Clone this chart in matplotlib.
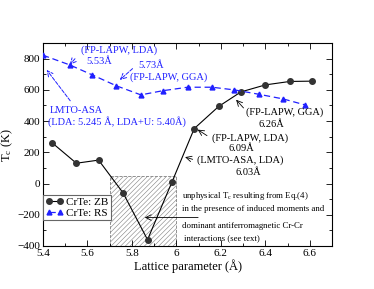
import matplotlib
matplotlib.use("Agg")
import matplotlib.pyplot as plt
from matplotlib.patches import Rectangle
from matplotlib.ticker import MultipleLocator

plt.rcParams['font.family'] = ['Liberation Serif', 'DejaVu Serif']
plt.rcParams['hatch.linewidth'] = 0.4
plt.rcParams['mathtext.fontset'] = 'stix'

# CrTe zinc-blende
zb_a = [5.44, 5.55, 5.65, 5.76, 5.87, 5.98, 6.08, 6.19, 6.29, 6.40, 6.51, 6.61]
zb_tc = [262, 130, 150, -60, -360, 10, 352, 494, 587, 632, 654, 656]

# CrTe rock-salt
rs_a = [5.40, 5.52, 5.62, 5.73, 5.84, 5.94, 6.05, 6.16, 6.26, 6.37, 6.48, 6.58]
rs_tc = [822, 760, 697, 626, 568, 595, 617, 617, 600, 572, 542, 503]

blue = '#2020ff'

fig = plt.figure(figsize=(3.74, 2.89), dpi=100)
ax = fig.add_axes([0.115, 0.149, 0.773, 0.702])

# unphysical region
ax.add_patch(Rectangle((5.7, -400), 0.3, 450, fill=False, hatch='///////',
                       edgecolor='0.5', ls='--', lw=0.6, zorder=1))

ax.plot(zb_a, zb_tc, '-o', color='black', mfc='#333333', mec='#333333',
        ms=4, lw=0.8, label='CrTe: ZB', zorder=3)
ax.plot(rs_a, rs_tc, '--^', color=blue, ms=3.5, lw=0.9, dashes=(5, 3),
        label='CrTe: RS', zorder=3)

ax.set_xlim(5.4, 6.7)
ax.set_ylim(-400, 900)
ax.xaxis.set_minor_locator(MultipleLocator(0.1))
ax.yaxis.set_major_locator(MultipleLocator(200))
ax.yaxis.set_minor_locator(MultipleLocator(100))
ax.set_xticks([5.4, 5.6, 5.8, 6.0, 6.2, 6.4, 6.6])
ax.set_xticklabels(['5.4', '5.6', '5.8', '6', '6.2', '6.4', '6.6'])
ax.tick_params(which='both', direction='in', top=True, right=True,
               labelsize=8, pad=2)
ax.tick_params(which='major', length=4, width=0.6)
ax.tick_params(which='minor', length=2, width=0.6)
for s in ax.spines.values():
    s.set_linewidth(0.8)

ax.set_xlabel('Lattice parameter (Å)', fontsize=9, labelpad=1)
ax.set_ylabel('T$_\\mathregular{c}$ (K)', fontsize=9, labelpad=2)

leg = ax.legend(loc='upper left', bbox_to_anchor=(0, 0.251), borderaxespad=0,
                fancybox=False, edgecolor='0.4', fontsize=8, numpoints=2,
                handlelength=1.6, handletextpad=0.3, borderpad=0.2,
                labelspacing=0.1, framealpha=1)
leg.get_frame().set_linewidth(0.8)

barrow = dict(arrowstyle='->', color='black', lw=0.6)
darrow = dict(arrowstyle='->', color=blue, lw=0.7, ls='--')

# RS labels
rs_notes = [('(FP-LAPW, LDA)', 5.570, 852), ('5.53Å', 5.593, 781),
            ('5.73Å', 5.830, 755), ('(FP-LAPW, GGA)', 5.790, 684),
            ('LMTO-ASA', 5.431, 471), ('(LDA: 5.245 Å, LDA+U: 5.40Å)', 5.422, 400)]
for t, x, y in rs_notes:
    ax.text(x, y, t, color=blue, fontsize=7.5, va='center')
ax.annotate('', xy=(5.512, 748), xytext=(5.552, 813), arrowprops=darrow)
ax.annotate('', xy=(5.736, 652), xytext=(5.812, 748), arrowprops=darrow)
ax.annotate('', xy=(5.409, 742), xytext=(5.530, 516), arrowprops=darrow)

# ZB labels
zb_notes = [('(FP-LAPW, GGA)', 6.314, 458), ('6.26Å', 6.367, 381),
            ('(FP-LAPW, LDA)', 6.161, 290), ('6.09Å', 6.233, 226),
            ('(LMTO-ASA, LDA)', 6.094, 148), ('6.03Å', 6.264, 71)]
for t, x, y in zb_notes:
    ax.text(x, y, t, color='black', fontsize=7.5, va='center')
ax.annotate('', xy=(6.26, 550), xytext=(6.31, 471), arrowprops=barrow)
ax.annotate('', xy=(6.085, 355), xytext=(6.148, 297), arrowprops=barrow)
ax.annotate('', xy=(6.027, 174), xytext=(6.085, 150), arrowprops=barrow)

unphys = [('unphysical T$_\\mathregular{c}$ resulting from Eq.(4)', 6.027, -77),
          ('in the presence of induced moments and', 6.027, -161),
          ('dominant antiferromagnetic Cr-Cr', 6.027, -271),
          ('interactions (see text)', 6.032, -348)]
for t, x, y in unphys:
    ax.text(x, y, t, fontsize=6.3, va='center')
ax.annotate('', xy=(5.845, -218), xytext=(6.11, -218), arrowprops=barrow)

fig.savefig('out.png', dpi=100)
